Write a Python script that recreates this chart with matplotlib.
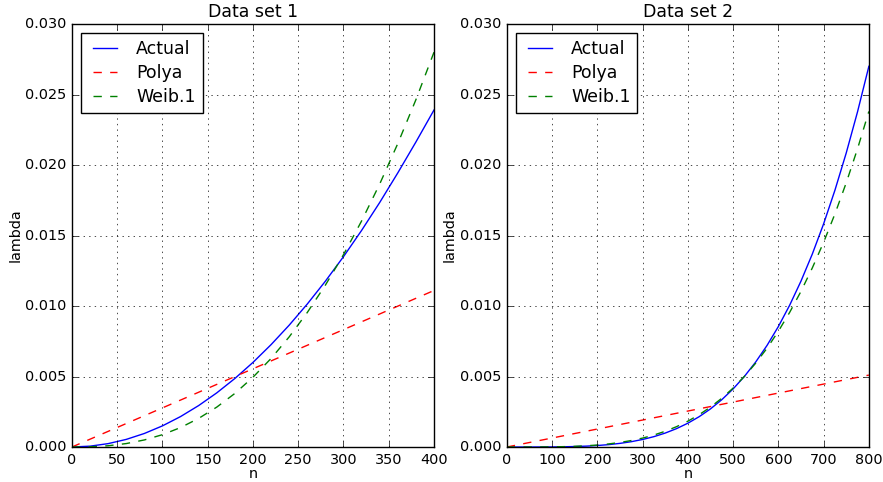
import numpy as np
import matplotlib
matplotlib.use("Agg")
import matplotlib.pyplot as plt

plt.style.use("classic")
plt.rcParams["font.size"] = 10.4
plt.rcParams["figure.facecolor"] = "white"
plt.rcParams["savefig.facecolor"] = "white"

# data set 1: hazard rate lambda vs n
n1 = [0, 20, 40, 60, 80, 100, 120, 140, 160, 180, 200,
      220, 240, 260, 280, 300, 320, 340, 360, 380, 400]
actual1 = [0, 0.00006, 0.00024, 0.00054, 0.00096, 0.0015, 0.00216, 0.00294, 0.00384,
           0.00486, 0.0060, 0.00726, 0.00864, 0.01014, 0.01176, 0.0135, 0.01536,
           0.01734, 0.01944, 0.02163, 0.0239]
weib1 = [0, 0.000016, 0.000089, 0.000244, 0.000501, 0.000875, 0.00138, 0.00203,
         0.00283, 0.0038, 0.00495, 0.00628, 0.00781, 0.00954, 0.01148, 0.01364,
         0.01603, 0.01865, 0.02152, 0.02463, 0.0280]
polya_n1 = [0, 400]
polya1 = [0, 0.0111]

# data set 2
n2 = [0, 25, 50, 75, 100, 125, 150, 175, 200, 225, 250, 275, 300, 325, 350, 375, 400,
      425, 450, 475, 500, 525, 550, 575, 600, 625, 650, 675, 700, 725, 750, 775, 800]
actual2 = [0, 0.00000003, 0.0000004, 0.0000021, 0.0000066, 0.0000161, 0.0000334,
           0.0000618, 0.0001055, 0.000169, 0.0002575, 0.000377, 0.000534, 0.000735,
           0.000989, 0.001304, 0.0016875, 0.002151, 0.002703, 0.003356, 0.00412,
           0.005008, 0.006032, 0.007206, 0.008543, 0.010058, 0.011767, 0.013684,
           0.015827, 0.018212, 0.020857, 0.02378, 0.0270]
weib2 = [0, 0.00000006, 0.00000083, 0.0000037, 0.0000108, 0.0000247, 0.0000485,
         0.000086, 0.000141, 0.000218, 0.000322, 0.000458, 0.000632, 0.000849,
         0.001117, 0.001443, 0.001831, 0.002292, 0.002832, 0.003458, 0.00418,
         0.00501, 0.00595, 0.00701, 0.00821, 0.00955, 0.01104, 0.0127, 0.01452,
         0.01653, 0.01874, 0.02116, 0.0238]
polya_n2 = [0, 800]
polya2 = [0, 0.0051]

fig = plt.figure(figsize=(8.83, 4.82), dpi=100)
ax1 = fig.add_axes([0.0815, 0.0726, 0.41, 0.8776])
ax2 = fig.add_axes([0.574, 0.0726, 0.41, 0.8776])

panels = [
    (ax1, "Data set 1", n1, actual1, polya_n1, polya1, weib1, 400),
    (ax2, "Data set 2", n2, actual2, polya_n2, polya2, weib2, 800),
]
for ax, title, n, act, pn, pol, wb, xmax in panels:
    ax.plot(n, act, "b-", label="Actual")
    ax.plot(pn, pol, "r--", label="Polya")
    ax.plot(n, wb, "g--", label="Weib.1")
    ax.set_xlim(0, xmax)
    ax.set_ylim(0, 0.03)
    ax.set_title(title)
    ax.set_xlabel("n", labelpad=0)
    ax.set_ylabel("lambda", labelpad=2)
    ax.grid(True)
    ax.legend(loc="upper left", labelspacing=0.35)

fig.savefig("out.png", dpi=100)
